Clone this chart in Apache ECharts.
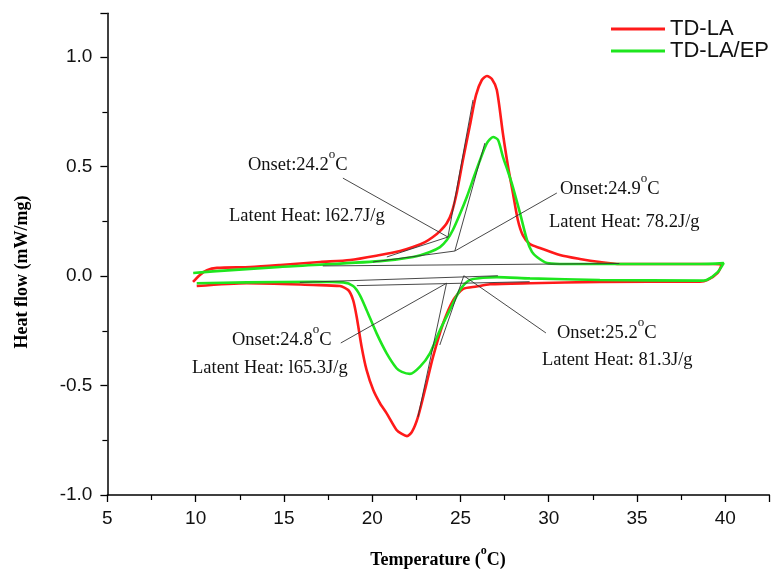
<!DOCTYPE html>
<html><head><meta charset="utf-8">
<script src="https://cdn.jsdelivr.net/npm/echarts@6/dist/echarts.min.js"></script>
<style>html,body{margin:0;padding:0;background:#fff}#c{width:772px;height:573px}</style>
</head><body><div id="c"></div>
<script>
// ---- data (temperature in °C, heat flow in mW/mg) ----
const seriesNames = ['TD-LA', 'TD-LA/EP'];

// TD-LA: heating scan (10 -> 40 °C) followed by cooling scan (40 -> 10 °C)
const tdlaTemp = [9.85,10.24,10.64,11.21,13.09,14.79,17.05,18.75,20.45,21.58,22.31,22.99,23.44,23.84,24.23,24.51,24.80,25.14,25.54,25.88,26.21,26.50,26.78,27.06,27.40,27.68,27.97,28.25,28.53,28.93,29.50,30.63,31.76,32.90,34.03,38.56,39.80,39.57,39.00,38.56,32.90,28.93,26.67,25.91,25.15,24.59,24.02,23.45,23.08,22.60,22.25,21.97,21.68,21.38,20.82,20.44,20.06,19.68,19.40,19.12,18.92,18.64,18.17,16.66,12.89,10.06];
const tdlaFlow = [-0.027,0.005,0.027,0.037,0.041,0.050,0.064,0.073,0.096,0.114,0.132,0.155,0.178,0.205,0.242,0.292,0.384,0.530,0.689,0.826,0.895,0.913,0.900,0.849,0.653,0.507,0.379,0.256,0.187,0.146,0.128,0.096,0.078,0.064,0.055,0.055,0.052,0.014,-0.018,-0.026,-0.027,-0.033,-0.038,-0.048,-0.059,-0.110,-0.216,-0.368,-0.490,-0.642,-0.712,-0.731,-0.721,-0.703,-0.627,-0.581,-0.521,-0.429,-0.323,-0.186,-0.110,-0.064,-0.046,-0.041,-0.033,-0.046];

// TD-LA/EP: heating scan followed by cooling scan
const tdlaEpTemp = [9.86,10.98,14.77,20.44,22.31,23.27,23.84,24.23,24.57,24.97,25.36,25.76,26.11,26.50,26.85,27.13,27.41,27.70,27.97,28.37,28.77,29.05,29.33,29.90,30.63,38.56,39.91,39.57,38.95,38.56,32.90,28.93,27.06,26.27,25.54,24.97,24.40,23.84,23.27,22.71,22.14,21.68,21.38,20.82,20.25,19.68,19.30,18.92,18.36,16.66,12.89,10.06];
const tdlaEpFlow = [0.014,0.021,0.041,0.068,0.087,0.110,0.132,0.164,0.210,0.283,0.361,0.452,0.530,0.607,0.635,0.621,0.543,0.475,0.406,0.288,0.164,0.110,0.087,0.059,0.055,0.055,0.059,0.018,-0.018,-0.021,-0.018,-0.011,-0.005,-0.008,-0.018,-0.064,-0.155,-0.247,-0.353,-0.414,-0.447,-0.438,-0.421,-0.353,-0.262,-0.155,-0.087,-0.046,-0.029,-0.026,-0.029,-0.033];

// construction lines (baselines, tangents, leaders): [t1, f1, t2, f2]
const constructionLines = [
  [17.2, 0.046, 34.0, 0.057],
  [20.83, 0.087, 24.29, 0.178],
  [24.29, 0.178, 25.71, 0.804],
  [20.04, 0.064, 24.68, 0.114],
  [24.68, 0.114, 26.38, 0.607],
  [18.34, 0.447, 24.29, 0.178],
  [30.46, 0.379, 24.68, 0.114],
  [15.9, -0.029, 27.12, 0.001],
  [19.13, -0.044, 28.92, -0.026],
  [24.21, -0.033, 22.59, -0.644],
  [25.19, 0.001, 23.83, -0.315],
  [18.22, -0.306, 24.21, -0.033],
  [29.84, -0.260, 25.19, 0.001]
];

// annotation texts
const annotationTexts = ['Onset:24.2{s|o}C','Latent Heat: l62.7J/g','Onset:24.9{s|o}C','Latent Heat: 78.2J/g','Onset:24.8{s|o}C','Latent Heat: l65.3J/g','Onset:25.2{s|o}C','Latent Heat: 81.3J/g'];
const xTitle = 'Temperature ({s|o}C)';
const yTitle = 'Heat flow (mW/mg)';

// ---- chart ----
const chart = echarts.init(document.getElementById('c'), null, {renderer: 'canvas'});
const zip = (a, b) => a.map((v, i) => [v, b[i]]);

// layout (pixels) for the annotation texts: [left, baseline]
const textPos = [[248,171],[229,222],[560,195],[549,227.5],[232,346],[192,374],[557,339],[542,366]];
const serif = 'Liberation Serif';

const graphics = annotationTexts.map((t, i) => ({
  type: 'text', silent: true, z: 100,
  x: textPos[i][0], y: textPos[i][1] - 22.5,
  style: {
    text: t, fill: '#111', fontFamily: serif, fontSize: 18.5, lineHeight: 34,
    verticalAlign: 'top', align: 'left',
    rich: { s: { fontFamily: serif, fontSize: 13, verticalAlign: 'top', fill: '#111' } }
  }
}));
graphics.push({
  type: 'text', silent: true, x: 438, y: 566 - 21.4,
  style: {
    text: xTitle, fill: '#000', fontFamily: serif, fontWeight: 'bold', fontSize: 18, lineHeight: 32,
    verticalAlign: 'top', align: 'center',
    rich: { s: { fontFamily: serif, fontSize: 12, fontWeight: 'bold', verticalAlign: 'top', fill: '#000' } }
  }
});
graphics.push({
  type: 'text', silent: true, x: 22, y: 272, rotation: Math.PI / 2,
  style: { text: yTitle, fill: '#000', fontFamily: serif, fontWeight: 'bold', fontSize: 18, align: 'center', verticalAlign: 'middle' }
});

const lineSeries = constructionLines.map(l => ({
  type: 'line', silent: true, symbol: 'none', z: 5,
  data: [[l[0], l[1]], [l[2], l[3]]],
  lineStyle: { color: '#333', width: 0.9 }
}));

const axisCommon = {
  axisLine: { show: true, onZero: false, lineStyle: { color: '#000', width: 1.5 } },
  axisTick: { show: true, inside: false, length: 7, lineStyle: { color: '#000', width: 1.3 } },
  minorTick: { show: true, splitNumber: 2, length: 5, lineStyle: { color: '#000', width: 1.2 } },
  splitLine: { show: false },
  axisLabel: { color: '#111', fontFamily: 'Liberation Sans', fontSize: 19 }
};

chart.setOption({
  animation: false,
  backgroundColor: '#fff',
  grid: { left: 107.4, right: 2.6, top: 13.2, bottom: 78 },
  legend: {
    orient: 'vertical', left: 606, top: 13, icon: 'rect', itemWidth: 54, itemHeight: 3, itemGap: 0,
    textStyle: { fontFamily: 'Liberation Sans', fontSize: 22, lineHeight: 21, color: '#111' },
    data: seriesNames
  },
  xAxis: Object.assign({}, axisCommon, {
    type: 'value', min: 5, max: 42.5, interval: 5,
    axisLabel: Object.assign({}, axisCommon.axisLabel, { margin: 14, showMaxLabel: false,
      formatter: v => (v % 5 === 0 ? String(v) : '') })
  }),
  yAxis: Object.assign({}, axisCommon, {
    type: 'value', min: -1, max: 1.2, interval: 0.5,
    axisLabel: Object.assign({}, axisCommon.axisLabel, { margin: 15, showMaxLabel: false,
      formatter: v => (Math.abs(v * 2 - Math.round(v * 2)) < 1e-9 ? v.toFixed(1) : '') })
  }),
  series: [
    { name: seriesNames[0], type: 'line', symbol: 'none', smooth: 0.25, z: 3,
      data: zip(tdlaTemp, tdlaFlow), lineStyle: { color: '#ff1a1a', width: 2.6 }, itemStyle: { color: '#ff1a1a' } },
    { name: seriesNames[1], type: 'line', symbol: 'none', smooth: 0.25, z: 4,
      data: zip(tdlaEpTemp, tdlaEpFlow), lineStyle: { color: '#1ee61e', width: 2.6 }, itemStyle: { color: '#1ee61e' } }
  ].concat(lineSeries),
  graphic: graphics
});
</script>
</body></html>
